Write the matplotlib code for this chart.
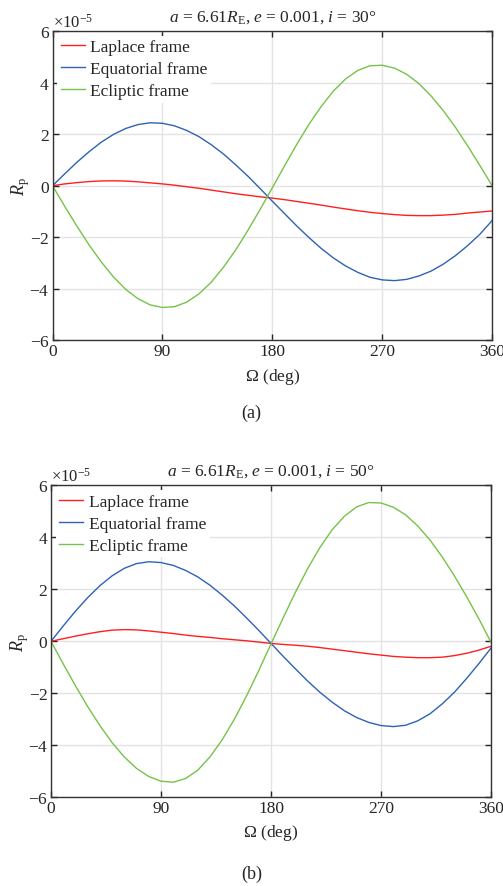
import matplotlib
matplotlib.use("Agg")
import matplotlib.pyplot as plt
from matplotlib.ticker import ScalarFormatter

plt.rcParams['font.family'] = ['Liberation Serif', 'DejaVu Serif']
plt.rcParams['mathtext.fontset'] = 'custom'
plt.rcParams['mathtext.rm'] = 'Liberation Serif'
plt.rcParams['mathtext.it'] = 'Liberation Serif:italic'
plt.rcParams['axes.unicode_minus'] = True

# Longitude of the ascending node (deg)
omega = [0, 10, 20, 30, 40, 50, 60, 70, 80, 90, 100, 110, 120, 130, 140, 150, 160, 170, 180,
         190, 200, 210, 220, 230, 240, 250, 260, 270, 280, 290, 300, 310, 320, 330, 340, 350, 360]

# R_p in units of 1e-5, i = 30 deg
laplace_30 = [0, 0.07, 0.12, 0.16, 0.185, 0.19, 0.18, 0.15, 0.11, 0.07, 0.02, -0.04, -0.10,
              -0.17, -0.24, -0.31, -0.37, -0.43, -0.48, -0.54, -0.61, -0.68, -0.75, -0.83,
              -0.90, -0.97, -1.03, -1.08, -1.12, -1.15, -1.16, -1.16, -1.14, -1.11, -1.06,
              -1.02, -0.98]
equator_30 = [0, 0.46, 0.91, 1.32, 1.69, 1.99, 2.22, 2.37, 2.44, 2.42, 2.32, 2.14, 1.90,
              1.59, 1.23, 0.81, 0.37, -0.11, -0.60, -1.08, -1.56, -2.01, -2.43, -2.80,
              -3.11, -3.36, -3.55, -3.65, -3.68, -3.63, -3.50, -3.31, -3.04, -2.71, -2.32,
              -1.88, -1.35]
ecliptic_30 = [0, -0.80, -1.57, -2.30, -2.96, -3.54, -4.02, -4.38, -4.62, -4.72, -4.69, -4.51,
               -4.19, -3.74, -3.16, -2.49, -1.73, -0.92, -0.08, 0.77, 1.60, 2.38, 3.07, 3.67,
               4.14, 4.47, 4.65, 4.67, 4.56, 4.32, 3.96, 3.48, 2.91, 2.26, 1.54, 0.78, 0]

# R_p in units of 1e-5, i = 50 deg
laplace_50 = [0, 0.10, 0.20, 0.29, 0.37, 0.43, 0.45, 0.44, 0.40, 0.35, 0.30, 0.24, 0.19,
              0.15, 0.10, 0.06, 0.02, -0.03, -0.08, -0.12, -0.15, -0.19, -0.24, -0.30,
              -0.36, -0.42, -0.48, -0.53, -0.58, -0.61, -0.63, -0.63, -0.61, -0.55, -0.46,
              -0.34, -0.19]
equator_50 = [0, 0.59, 1.16, 1.68, 2.14, 2.52, 2.81, 2.99, 3.06, 3.03, 2.92, 2.73, 2.48,
              2.16, 1.78, 1.36, 0.90, 0.42, -0.08, -0.58, -1.06, -1.53, -1.96, -2.34,
              -2.67, -2.93, -3.12, -3.24, -3.28, -3.23, -3.06, -2.79, -2.41, -1.96, -1.43,
              -0.86, -0.26]
ecliptic_50 = [0, -0.87, -1.71, -2.51, -3.24, -3.90, -4.45, -4.89, -5.20, -5.38, -5.42, -5.28,
               -4.96, -4.45, -3.79, -3.00, -2.10, -1.12, -0.10, 0.91, 1.89, 2.80, 3.61, 4.29,
               4.81, 5.17, 5.34, 5.32, 5.16, 4.87, 4.44, 3.90, 3.25, 2.52, 1.72, 0.87, -0.04]

x_ticks = [0, 90, 180, 270, 360]
y_ticks = [-6, -4, -2, 0, 2, 4, 6]

c_lap = '#FF1F1F'
c_equ = '#2E62B5'
c_ecl = '#77C24A'
dark = '#262626'

fig = plt.figure(figsize=(5.03, 8.87), dpi=100)
ax1 = fig.add_axes([0.1044, 0.615, 0.874, 0.349])
ax2 = fig.add_axes([0.1014, 0.100, 0.8748, 0.3517])

panels = [
    (ax1, laplace_30, equator_30, ecliptic_30, 30, '(a)', 0.5344),
    (ax2, laplace_50, equator_50, ecliptic_50, 50, '(b)', 0.0147),
]

for ax, lap, equ, ecl, inc, tag, tag_y in panels:
    ax.plot(omega, [v * 1e-5 for v in lap], color=c_lap, lw=1.0, label='Laplace frame')
    ax.plot(omega, [v * 1e-5 for v in equ], color=c_equ, lw=1.0, label='Equatorial frame')
    ax.plot(omega, [v * 1e-5 for v in ecl], color=c_ecl, lw=1.0, label='Ecliptic frame')

    ax.set_xlim(0, 360)
    ax.set_ylim(-6e-5, 6e-5)
    ax.set_xticks(x_ticks)
    ax.set_yticks([t * 1e-5 for t in y_ticks])

    fmt = ScalarFormatter(useMathText=True)
    fmt.set_powerlimits((-3, 3))
    ax.yaxis.set_major_formatter(fmt)
    ax.yaxis.get_offset_text().set_fontsize(12)
    ax.yaxis.get_offset_text().set_color(dark)

    ax.grid(True, color='#E3E3E3', lw=1.0)
    ax.set_axisbelow(True)
    ax.tick_params(direction='in', top=True, right=True, length=4, width=1.0,
                   labelsize=12.5, colors=dark, pad=2)
    for sp in ax.spines.values():
        sp.set_color('#333333')
        sp.set_linewidth(1.0)

    ax.set_xlabel(r'$\Omega$ (deg)', fontsize=12.5, color=dark, labelpad=4.5)
    ax.set_ylabel(r'$R_\mathrm{p}$', fontsize=13, color=dark, labelpad=-2)
    ax.set_title(r'$a$ = 6.61$R_\mathrm{E}$, $e$ = 0.001, $i$ = %d°' % inc,
                 fontsize=12.5, color=dark, pad=7.5)

    leg = ax.legend(loc='upper left', fontsize=12.5, frameon=True, fancybox=False,
                    facecolor='white', edgecolor='none', framealpha=1,
                    handlelength=1.4, handletextpad=0.3, labelspacing=0.34,
                    borderpad=0.2, borderaxespad=0.27)
    for t in leg.get_texts():
        t.set_color(dark)

    fig.text(0.5, tag_y, tag, ha='center', va='center', fontsize=13, color=dark)

fig.savefig('out.png', dpi=100)
